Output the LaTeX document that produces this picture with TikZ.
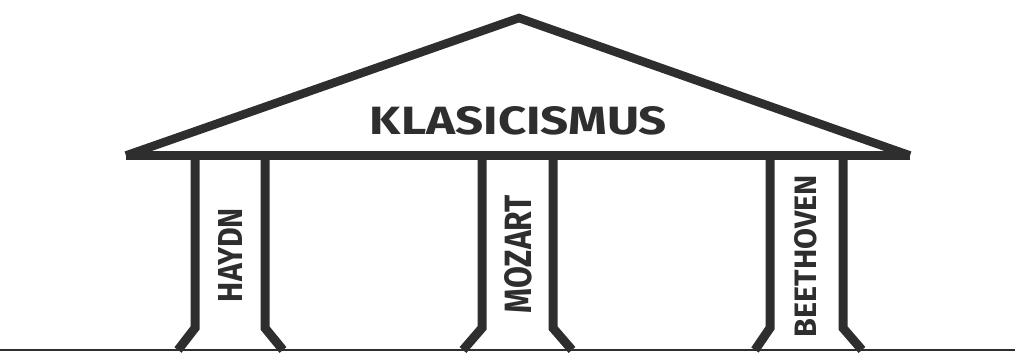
\documentclass[tikz,border=0pt]{standalone}
\usepackage{fontspec}
\setmainfont{Fira Sans}
\usepackage{graphicx}
\definecolor{ink}{HTML}{2E2E2E}
\begin{document}
\begin{tikzpicture}[x=1pt,y=-1pt,
  roofline/.style={draw=ink,line width=8.5pt,line join=miter,line cap=butt},
  beamline/.style={draw=ink,line width=9pt,line cap=butt},
  colline/.style={draw=ink,line width=9pt,line join=miter,line cap=butt},
  groundline/.style={draw=ink,line width=2pt},
  label/.style={inner sep=0pt,text=ink,font=\bfseries}]
\useasboundingbox (0,0) rectangle (1015,353);
% ground
\coordinate (gl) at (0,350);
\coordinate (gr) at (1015,350);
\draw[groundline] (gl) -- (gr);
% roof
\coordinate (tipL) at (126,155.5);
\coordinate (apex) at (519,18);
\coordinate (tipR) at (910,155.5);
\draw[roofline] (tipL) -- (apex) -- (tipR);
\draw[beamline] (tipL) -- (tipR);
% columns
\foreach \lt/\lb/\rt/\rb in {195/178/265/283, 482/463/553/572, 770/755/843/862}{
  \draw[colline] (\lt,158) -- (\lt,328) -- (\lb,350);
  \draw[colline] (\rt,158) -- (\rt,328) -- (\rb,350);
}
% texts
\node[label] (title) at (518.5,121) {\resizebox{297pt}{28pt}{KLASICISMUS}};
\node[label,rotate=90] (haydn) at (230,255) {\resizebox{94pt}{24pt}{HAYDN}};
\node[label,rotate=90] (mozart) at (518.5,254) {\resizebox{118pt}{27pt}{MOZART}};
\node[label,rotate=90] (beethoven) at (806,256) {\resizebox{162pt}{22pt}{BEETHOVEN}};
\end{tikzpicture}
\end{document}
